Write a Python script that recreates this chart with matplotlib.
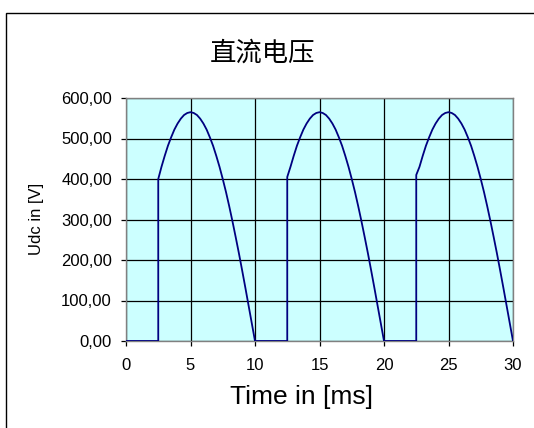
import matplotlib
matplotlib.use("Agg")
import matplotlib.pyplot as plt
from matplotlib.patches import Rectangle
from matplotlib.ticker import FuncFormatter

# values (time in ms, voltage in V)
time_ms = [
    0.0, 2.5, 2.5, 2.75, 3.0, 3.25, 3.5, 3.75, 4.0, 4.25, 4.5, 4.75, 5.0,
    5.25, 5.5, 5.75, 6.0, 6.25, 6.5, 6.75, 7.0, 7.25, 7.5, 7.75, 8.0,
    8.25, 8.5, 8.75, 9.0, 9.25, 9.5, 9.75, 10.0,
    12.5, 12.5, 12.75, 13.0, 13.25, 13.5, 13.75, 14.0, 14.25, 14.5, 14.75, 15.0,
    15.25, 15.5, 15.75, 16.0, 16.25, 16.5, 16.75, 17.0, 17.25, 17.5, 17.75, 18.0,
    18.25, 18.5, 18.75, 19.0, 19.25, 19.5, 19.75, 20.0,
    22.5, 22.5, 22.75, 23.0, 23.25, 23.5, 23.75, 24.0, 24.25, 24.5, 24.75, 25.0,
    25.25, 25.5, 25.75, 26.0, 26.25, 26.5, 26.75, 27.0, 27.25, 27.5, 27.75, 28.0,
    28.25, 28.5, 28.75, 29.0, 29.25, 29.5, 29.75, 30.0,
]
udc_v = [
    0, 0, 400, 430, 457, 482, 503, 522, 537, 549, 558, 563, 565,
    563, 558, 549, 537, 522, 503, 482, 457, 430, 400, 368, 333,
    296, 257, 217, 175, 132, 88, 44, 0,
    0, 405, 430, 457, 482, 503, 522, 537, 549, 558, 563, 565,
    563, 558, 549, 537, 522, 503, 482, 457, 430, 400, 368, 333,
    296, 257, 217, 175, 132, 88, 44, 0,
    0, 410, 430, 457, 482, 503, 522, 537, 549, 558, 563, 565,
    563, 558, 549, 537, 522, 503, 482, 457, 430, 400, 368, 333,
    296, 257, 217, 175, 132, 88, 44, 0,
]
x_ticks = [0, 5, 10, 15, 20, 25, 30]
y_ticks = [0, 100, 200, 300, 400, 500, 600]

title_text = "直流电压"
x_label = "Time in [ms]"
y_label = "Udc in [V]"

plt.rcParams['font.family'] = ['Liberation Sans', 'DejaVu Sans']

W, H = 534, 428
fig = plt.figure(figsize=(W / 100, H / 100), dpi=100)

# plot area in pixels: left 126, right 513, top 98, bottom 341
ax = fig.add_axes([126 / W, 1 - 341 / H, (513 - 126) / W, (341 - 98) / H])
ax.set_facecolor('#CCFFFF')

ax.plot(time_ms, udc_v, color='#000080', lw=1.3, zorder=3)

ax.set_xlim(0, 30)
ax.set_ylim(0, 600)
ax.set_xticks(x_ticks)
ax.set_yticks(y_ticks)
ax.yaxis.set_major_formatter(FuncFormatter(lambda v, p: f"{v:.2f}".replace('.', ',')))

ax.grid(True, color='black', lw=0.9, zorder=1)
ax.set_axisbelow(True)
for s in ax.spines.values():
    s.set_color('#808080')
    s.set_linewidth(1.0)

ax.tick_params(axis='both', direction='out', length=3.6, width=0.9, color='black',
               labelsize=12)
ax.tick_params(axis='y', pad=6.5)
ax.tick_params(axis='x', pad=8.5)

# titles placed in figure pixels
fig.text(263 / W, 1 - 53 / H, title_text, ha='center', va='center', fontsize=19,
         family=['Noto Sans CJK SC', 'DejaVu Sans'], weight='light')
fig.text(301 / W, 1 - 397 / H, x_label, ha='center', va='center', fontsize=19)
fig.text(37 / W, 1 - 219 / H, y_label, ha='center', va='center', fontsize=12,
         rotation=90)

# outer chart frame (only left and top edges visible)
fig.patches.append(Rectangle((6 / W, -0.05), 1.0, 1.05 - 12.5 / H, transform=fig.transFigure,
                             fill=False, edgecolor='black', lw=1.0))

fig.savefig("out.png", dpi=100)
